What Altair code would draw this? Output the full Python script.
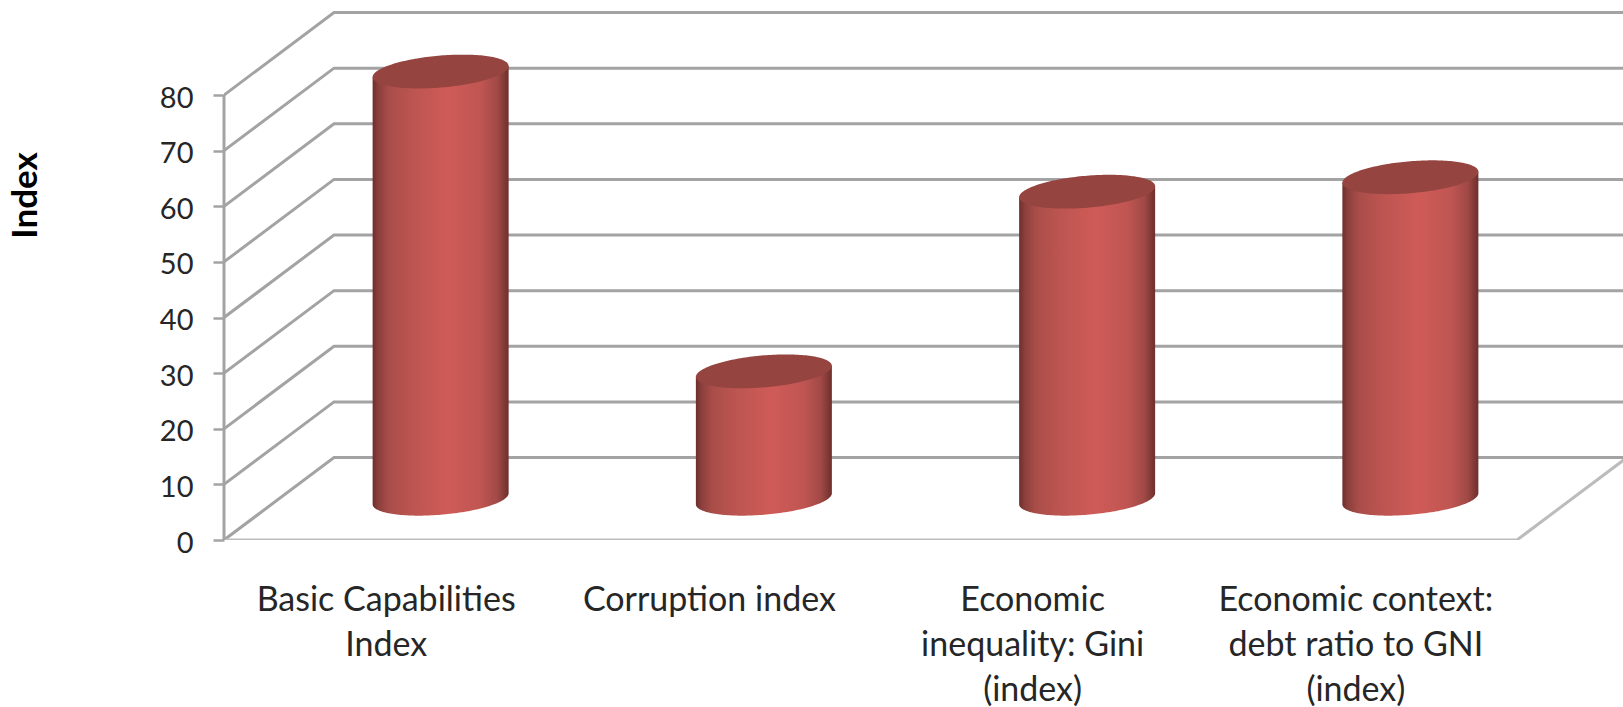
import json
import numpy as np
import pandas as pd
import altair as alt

# Chart content
categories = [
    ["Basic Capabilities", "Index"],
    ["Corruption index"],
    ["Economic", "inequality: Gini", "(index)"],
    ["Economic context:", "debt ratio to GNI", "(index)"],
]
values = [76.8, 22.9, 55.2, 57.8]
y_ticks = [0, 10, 20, 30, 40, 50, 60, 70, 80]
y_title = "Index"

# Oblique projection of the chart box, in axis units
PX_PER_CAT = 323.25
PX_PER_IDX = 5.5625
DEPTH_X = 110 / PX_PER_CAT
DEPTH_Y = 82.5 / PX_PER_IDX
N_CATS = len(categories)

# Cylinder cross-section: half width and the two tilt components of the ellipse
HALF_W = 68 / PX_PER_CAT
TILT = 5.5 / PX_PER_IDX
MINOR = 16 / PX_PER_IDX

GRID = "#a3a3a3"
FLOOR = "#bcbcbc"
TEXT = "#262626"
FONT = "Lato"

x_scale = alt.Scale(domain=[0, 1399 / PX_PER_CAT], nice=False, zero=False)
y_scale = alt.Scale(domain=[0, 540 / PX_PER_IDX], nice=False, zero=False)


def wall_rows():
    rows = []
    for tick in y_ticks:
        rows += [
            {"tick": tick, "step": 0, "cx": 0, "vy": tick},
            {"tick": tick, "step": 1, "cx": DEPTH_X, "vy": tick + DEPTH_Y},
            {"tick": tick, "step": 2, "cx": N_CATS + DEPTH_X + 0.1, "vy": tick + DEPTH_Y},
        ]
    return pd.DataFrame(rows)


def floor_rows():
    return pd.DataFrame([
        {"step": 0, "cx": 0, "vy": 0},
        {"step": 1, "cx": N_CATS, "vy": 0},
        {"step": 2, "cx": N_CATS + DEPTH_X, "vy": DEPTH_Y},
    ])


def cylinder_rows():
    rows = []
    angles = np.linspace(0, np.pi, 91)
    for i, value in enumerate(values):
        centre = i + 0.5 + DEPTH_X / 2
        base = DEPTH_Y / 2
        top = value + base
        for t in angles:
            c, s = float(np.cos(t)), float(np.sin(t))
            rows.append({
                "cyl": i,
                "cx": centre + HALF_W * c,
                # side surface: from the middle of the lid down to the base's front arc
                "body_hi": top + TILT * c,
                "body_lo": base + TILT * c - MINOR * s,
                # lid: back arc and front arc
                "lid_hi": top + TILT * c + MINOR * s,
                "lid_lo": top + TILT * c - MINOR * s,
            })
    return pd.DataFrame(rows)


# The first layer owns both axes; the remaining layers share its scales
label_lookup = json.dumps(categories)
tick_positions = [i + 0.5 for i in range(N_CATS)]

axes_layer = alt.Chart(pd.DataFrame({"cx": tick_positions, "vy": values})).mark_point(opacity=0).encode(
    x=alt.X(
        "cx:Q",
        scale=x_scale,
        axis=alt.Axis(
            values=tick_positions,
            domain=False,
            ticks=False,
            grid=False,
            title=None,
            labelExpr=f"{label_lookup}[floor(datum.value)]",
            labelFont=FONT,
            labelFontSize=34,
            labelColor=TEXT,
            labelLineHeight=45,
            labelPadding=43,
            labelBaseline="top",
            labelAngle=0,
            labelOverlap=False,
            labelFlush=False,
            labelLimit=600,
        ),
    ),
    y=alt.Y(
        "vy:Q",
        scale=y_scale,
        axis=alt.Axis(
            values=y_ticks,
            domain=False,
            grid=False,
            tickColor=GRID,
            tickSize=11,
            tickWidth=2.5,
            labelPadding=20,
            labelOffset=3,
            labelFont=FONT,
            labelFontSize=29,
            labelColor=TEXT,
            title=y_title,
            titleFont=FONT,
            titleFontSize=35,
            titleFontWeight="bold",
            titleColor="#000000",
            titleX=-199,
            titleY=195,
            titleAlign="center",
            titleBaseline="middle",
        ),
    ),
)

x_enc = alt.X("cx:Q", scale=x_scale)
y_enc = alt.Y("vy:Q", scale=y_scale)

walls = alt.Chart(wall_rows()).mark_line(color=GRID, strokeWidth=3, clip=True).encode(
    x=x_enc, y=y_enc, detail="tick:N", order="step:Q",
)

floor = alt.Chart(floor_rows()).mark_line(color=FLOOR, strokeWidth=3, clip=True).encode(
    x=x_enc, y=y_enc, order="step:Q",
)

y_axis_line = alt.Chart(pd.DataFrame({"lo": [min(y_ticks)], "hi": [max(y_ticks)], "at": [0]})).mark_rule(
    color=GRID, strokeWidth=3
).encode(
    x=alt.X("at:Q", scale=x_scale),
    y=alt.Y("lo:Q", scale=y_scale),
    y2="hi:Q",
)

side_fill = alt.Gradient(
    gradient="linear",
    x1=0, x2=1, y1=0, y2=0,
    stops=[
        alt.GradientStop(color="#6d2e2c", offset=0.0),
        alt.GradientStop(color="#8a3f3c", offset=0.04),
        alt.GradientStop(color="#a94d49", offset=0.12),
        alt.GradientStop(color="#bd5551", offset=0.3),
        alt.GradientStop(color="#cf5b57", offset=0.56),
        alt.GradientStop(color="#bf5552", offset=0.8),
        alt.GradientStop(color="#a04946", offset=0.92),
        alt.GradientStop(color="#6e2f2d", offset=1.0),
    ],
)

cyl = alt.Chart(cylinder_rows())

bodies = cyl.mark_area(fill=side_fill, orient="vertical").encode(
    x=x_enc,
    y=alt.Y("body_lo:Q", scale=y_scale, stack=None),
    y2="body_hi:Q",
    detail="cyl:N",
)

lids = cyl.mark_area(fill="#95443f", orient="vertical").encode(
    x=x_enc,
    y=alt.Y("lid_lo:Q", scale=y_scale, stack=None),
    y2="lid_hi:Q",
    detail="cyl:N",
)

chart = alt.layer(axes_layer, walls, floor, y_axis_line, bodies, lids).properties(
    width=1399,
    height=540,
    padding={"left": 224, "top": 0, "right": 0, "bottom": 167},
    autosize=alt.AutoSizeParams(type="none"),
    background="#ffffff",
).configure_view(stroke=None)

chart.save("out.html", embed_options={"renderer": "svg", "actions": False})
